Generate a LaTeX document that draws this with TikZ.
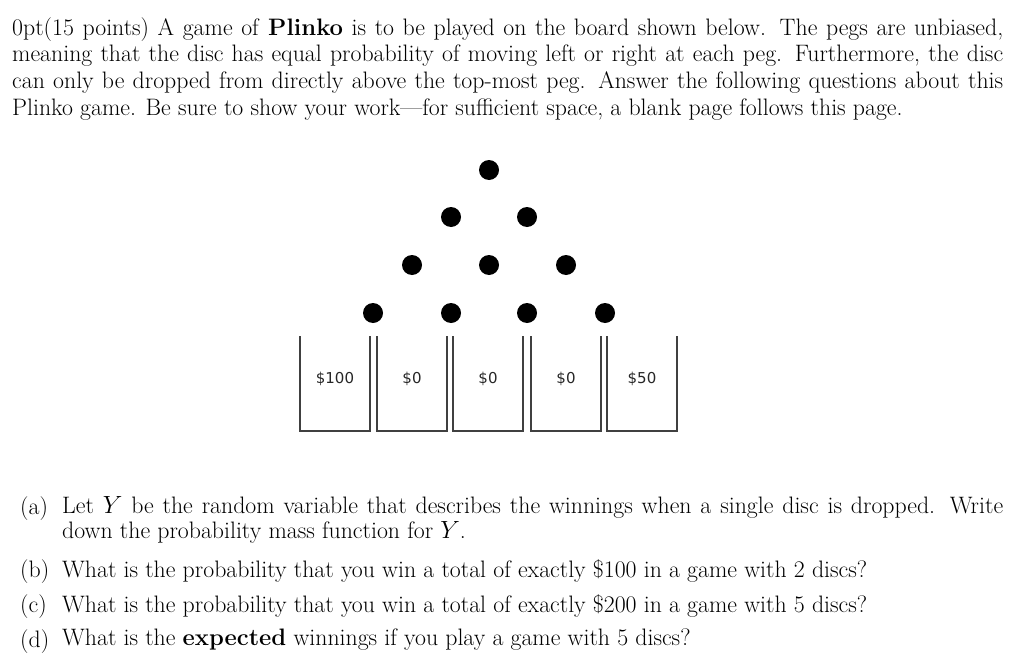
\documentclass[tikz,border=0pt]{standalone}
\usepackage{fontspec}
\newfontfamily\dejavu{DejaVu Sans}
\begin{document}
\begin{tikzpicture}[x=1pt,y=-1pt,
  peg/.style={circle,fill=black,inner sep=0pt,minimum size=20pt},
  bin/.style={draw=black!75,line width=1.3pt},
  lab/.style={font=\dejavu\fontsize{15}{18}\selectfont,text=black!85},
  para/.style={anchor=north west,inner sep=0pt,align=justify,font=\fontsize{23.8}{26.7}\selectfont\spaceskip=0.333em plus 0.4em minus 0em\xspaceskip=0.45em plus 0.4em},
  item/.style={anchor=north west,inner sep=0pt,text width=941pt,align=justify,font=\fontsize{23.8}{25.5}\selectfont},
  num/.style={anchor=north west,inner sep=0pt,font=\fontsize{23.8}{25.5}\selectfont}]
\useasboundingbox (0,0) rectangle (1024,666);
\node[para,text width=991pt] (intro) at (12,17) {(15 points) A game of \textbf{Plinko} is to be played on the board shown below. The pegs are unbiased, meaning that the disc has equal probability of moving left or right at each peg. Furthermore, the disc can only be dropped from directly above the top-most peg. Answer the following questions about this Plinko game. Be sure to show your work---for sufficient space, a blank page follows this page.};
\node[peg] (p1) at (489,170) {};
\node[peg] (p21) at (451,217) {};
\node[peg] (p22) at (527,217) {};
\node[peg] (p31) at (412,265) {};
\node[peg] (p32) at (489,265) {};
\node[peg] (p33) at (566,265) {};
\node[peg] (p41) at (373,313) {};
\node[peg] (p42) at (451,313) {};
\node[peg] (p43) at (527,313) {};
\node[peg] (p44) at (605,313) {};
\foreach \x/\t [count=\i] in {300/\$100,377/\$0,453/\$0,531/\$0,607/\$50}{
  \draw[bin] (\x,336) -- (\x,431) -- (\x+70,431) -- (\x+70,336);
  \node[lab] (b\i) at (\x+35,379) {\t};
}
\node[num] (la) at (20,496) {(a)};
\node[item] (ia) at (62,496) {Let $Y$ be the random variable that describes the winnings when a single disc is dropped. Write down the probability mass function for $Y$.};
\node[num] (lb) at (20,559) {(b)};
\node[item] (ib) at (62,559) {What is the probability that you win a total of exactly \$100 in a game with 2 discs?};
\node[num] (lc) at (20,594) {(c)};
\node[item] (ic) at (62,594) {What is the probability that you win a total of exactly \$200 in a game with 5 discs?};
\node[num] (ld) at (20,629) {(d)};
\node[item] (id) at (62,629) {What is the \textbf{expected} winnings if you play a game with 5 discs?};
\end{tikzpicture}
\end{document}
